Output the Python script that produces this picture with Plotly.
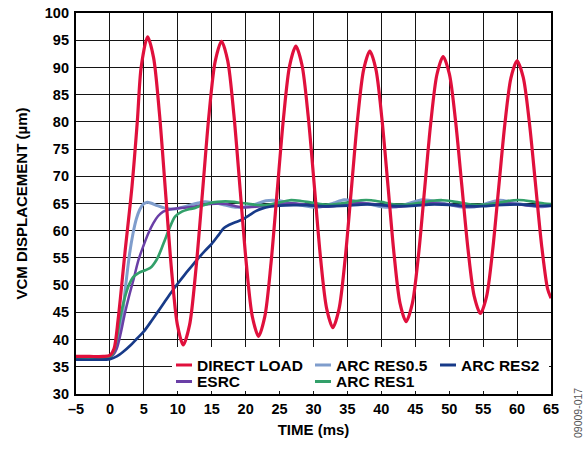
import plotly.graph_objects as go

# ---- data: VCM displacement (µm) versus time (ms) ----
direct_t = [-5, -3, -1, 0, 0.6, 1.2, 2.2, 3.25, 4.05, 4.6, 5.55,
            6.43, 7.30, 8.18, 9.05, 9.93, 10.8,
            11.74, 12.68, 13.63, 14.57, 15.51, 16.45,
            17.36, 18.27, 19.18, 20.08, 20.99, 21.9,
            22.82, 23.73, 24.65, 25.57, 26.48, 27.4,
            28.31, 29.22, 30.13, 31.03, 31.94, 32.85,
            33.76, 34.67, 35.58, 36.48, 37.39, 38.3,
            39.19, 40.08, 40.98, 41.87, 42.76, 43.65,
            44.56, 45.47, 46.38, 47.28, 48.19, 49.1,
            50.02, 50.93, 51.85, 52.77, 53.68, 54.6,
            55.5, 56.4, 57.3, 58.2, 59.1, 60.0,
            60.9, 61.8, 62.7, 63.6, 64.5, 65.0]
direct_v = [36.9, 36.9, 36.9, 37.1, 38.3, 43.6, 55.8, 68.1, 80.3, 90.0, 95.6,
            91.8, 81.5, 67.3, 53.2, 42.8, 39.0,
            42.7, 53.0, 66.9, 80.9, 91.1, 94.8,
            91.2, 81.3, 67.7, 54.2, 44.2, 40.6,
            44.2, 53.9, 67.3, 80.6, 90.3, 93.9,
            90.4, 81.0, 68.1, 55.1, 45.7, 42.2,
            45.6, 54.9, 67.6, 80.3, 89.6, 93.0,
            89.7, 80.6, 68.2, 55.7, 46.6, 43.3,
            46.6, 55.5, 67.7, 79.8, 88.7, 92.0,
            88.8, 80.2, 68.4, 56.6, 48.0, 44.8,
            47.9, 56.4, 68.0, 79.6, 88.1, 91.2,
            88.2, 80.0, 68.8, 57.5, 49.3, 47.6]

res05_t = [-5, -2, 0, 0.4, 0.8, 1.3, 1.8, 2.3, 2.9, 3.4, 3.9, 4.4, 4.9, 5.4, 6.0,
           7.0, 8.0, 9.0, 10.0, 11.0, 12.0, 13.0, 14.0, 15.0, 16.0, 17.0, 18.0,
           19.0, 20.0, 21.0, 22.0, 23.0, 24.0, 25.0, 26.5, 28.0, 29.5, 30.5, 31.5,
           33.0, 34.5, 35.5, 37.0, 38.5, 40.0, 41.5, 43.0, 44.5, 46.0, 47.0, 48.5,
           50.0, 51.5, 53.0, 54.5, 56.0, 57.5, 59.0, 60.5, 62.0, 63.5, 65.0]
res05_v = [36.8, 36.8, 36.9, 37.3, 38.5, 41.0, 44.2, 49.7, 55.8, 59.5, 62.2, 63.9, 64.9, 65.2, 65.1,
           64.6, 64.2, 64.0, 64.1, 64.4, 64.8, 65.1, 65.3, 65.2, 65.0, 64.7, 64.4,
           64.3, 64.4, 64.7, 65.1, 65.5, 65.6, 65.5, 65.1, 64.7, 64.4, 64.3, 64.5,
           65.1, 65.7, 65.6, 65.2, 64.8, 64.4, 64.3, 64.6, 65.2, 65.7, 65.6, 65.2,
           64.8, 64.4, 64.3, 64.6, 65.2, 65.6, 65.3, 64.9, 64.6, 64.4, 64.6]

esrc_t = [-5, -2, 0, 0.5, 1.0, 1.6, 2.2, 2.8, 3.45, 4.2, 4.9, 5.65, 6.4, 7.1, 7.85,
          8.8, 9.8, 11.0, 12.3, 13.5, 14.8, 16.0, 17.2, 18.5, 19.5, 20.5, 21.5,
          23.0, 24.5, 26.0, 27.5, 29.0, 30.5, 32.0, 33.5, 35.0, 36.5, 38.0, 39.5,
          41.0, 42.5, 44.0, 45.5, 47.0, 48.5, 50.0, 51.5, 53.0, 54.5, 56.0, 57.5,
          59.0, 60.5, 62.0, 63.5, 65.0]
esrc_v = [36.6, 36.6, 36.7, 37.2, 38.3, 41.2, 44.8, 47.9, 50.9, 54.6, 57.1, 59.5, 61.4, 62.7, 63.5,
          63.9, 64.1, 64.2, 64.4, 64.7, 64.9, 65.0, 64.9, 64.5, 64.3, 64.3, 64.4,
          64.6, 64.8, 65.0, 65.0, 64.8, 64.5, 64.4, 64.6, 64.9, 65.1, 65.0, 64.8,
          64.5, 64.4, 64.6, 64.9, 65.1, 65.0, 64.8, 64.5, 64.4, 64.6, 64.9, 65.0,
          65.0, 64.8, 64.6, 64.5, 64.6]

res1_t = [-5, -2, 0, 0.5, 1.0, 1.45, 2.0, 2.7, 3.45, 4.2, 4.9, 5.5, 6.15, 6.6, 7.1,
          7.6, 8.1, 8.85, 9.6, 10.6, 11.5, 12.3, 13.0, 13.8, 14.8, 15.8, 17.0,
          18.3, 19.3, 20.2, 21.2, 22.1, 23.5, 25.0, 26.5, 28.0, 29.5, 31.0, 32.5,
          34.0, 35.5, 37.0, 38.5, 40.0, 41.5, 43.0, 44.5, 46.0, 47.5, 49.0, 50.5,
          52.0, 53.5, 55.0, 56.5, 58.0, 59.5, 61.0, 62.5, 64.0, 65.0]
res1_v = [36.7, 36.7, 36.8, 37.6, 40.2, 43.6, 46.8, 49.7, 51.5, 52.2, 52.6, 52.9, 53.4, 54.1, 55.2,
          56.7, 58.3, 60.7, 62.6, 63.5, 63.9, 64.1, 64.4, 64.7, 65.1, 65.3, 65.4,
          65.3, 65.1, 65.0, 64.8, 64.7, 64.8, 65.2, 65.6, 65.5, 65.2, 64.9, 64.8,
          65.0, 65.3, 65.6, 65.6, 65.3, 64.9, 64.8, 64.9, 65.2, 65.5, 65.6, 65.4,
          65.1, 64.8, 64.8, 65.0, 65.3, 65.6, 65.6, 65.3, 65.0, 64.9]

res2_t = [-5, -2, 0, 1.0, 2.0, 3.0, 4.0, 5.0, 6.0, 7.0, 8.0, 9.0, 10.0, 11.0, 12.0,
          13.0, 14.0, 15.0, 16.0, 16.8, 17.6, 18.6, 19.6, 20.5, 21.5, 22.5, 23.5,
          25.0, 27.0, 29.0, 31.0, 33.0, 35.0, 37.0, 39.0, 41.0, 43.0, 45.0, 47.0,
          49.0, 51.0, 53.0, 55.0, 57.0, 59.0, 61.0, 63.0, 65.0]
res2_v = [36.3, 36.3, 36.4, 36.9, 37.8, 38.9, 40.2, 41.5, 43.2, 45.0, 46.8, 48.6, 50.3, 51.9, 53.4,
          54.9, 56.3, 57.6, 59.2, 60.5, 61.1, 61.6, 62.1, 62.8, 63.6, 64.1, 64.4,
          64.6, 64.7, 64.7, 64.5, 64.5, 64.6, 64.8, 64.8, 64.6, 64.5, 64.6, 64.8,
          64.8, 64.7, 64.5, 64.5, 64.7, 64.8, 64.8, 64.6, 64.6]

x_ticks = [-5, 0, 5, 10, 15, 20, 25, 30, 35, 40, 45, 50, 55, 60, 65]
x_tick_text = ["–5", "0", "5", "10", "15", "20", "25", "30", "35", "40", "45",
               "50", "55", "60", "65"]
y_ticks = [30, 35, 40, 45, 50, 55, 60, 65, 70, 75, 80, 85, 90, 95, 100]

# series drawn back to front: name, x, y, colour, width, legend row/col
series = [
    ("ARC RES0.5", res05_t, res05_v, "#7f9dcc", 3.0, 0, 1),
    ("ESRC", esrc_t, esrc_v, "#6a3fa6", 2.5, 1, 0),
    ("ARC RES1", res1_t, res1_v, "#33a06a", 2.7, 1, 1),
    ("ARC RES2", res2_t, res2_v, "#173a88", 2.7, 0, 2),
    ("DIRECT LOAD", direct_t, direct_v, "#e0103c", 3.2, 0, 0),
]

FONT = "Liberation Sans, Arial, sans-serif"
W, H = 586, 449
ML, MR, MT, MB = 76, 35, 13, 55
PW, PH = W - ML - MR, H - MT - MB


def px_x(px):
    return (px - ML) / PW


def px_y(py):
    return (H - MB - py) / PH


fig = go.Figure()
for name, xs, ys, color, width, _, _ in series:
    fig.add_trace(go.Scatter(
        x=xs, y=ys, mode="lines", name=name,
        line=dict(color=color, width=width, shape="spline", smoothing=0.8),
        showlegend=False,
    ))

# in-plot key: white panel, short line swatches and labels
shapes = [dict(type="rect", xref="paper", yref="paper",
               x0=px_x(172), x1=px_x(549), y0=px_y(391), y1=px_y(347),
               fillcolor="white", line=dict(width=0), layer="above")]
annotations = []
col_dash = [176, 315, 440]
row_y = [365, 381.5]
for name, _, _, color, _, row, col in series:
    x0 = col_dash[col]
    shapes.append(dict(type="line", xref="paper", yref="paper",
                       x0=px_x(x0), x1=px_x(x0 + 16),
                       y0=px_y(row_y[row]), y1=px_y(row_y[row]),
                       line=dict(color=color, width=3), layer="above"))
    annotations.append(dict(text=name, xref="paper", yref="paper",
                            x=px_x(x0 + 19), y=px_y(row_y[row]),
                            xanchor="left", yanchor="middle", showarrow=False,
                            font=dict(family=FONT, size=15.5, color="black",
                                      weight="bold")))

annotations.append(dict(text="09009-017", xref="paper", yref="paper",
                        x=px_x(578), y=px_y(413), textangle=-90,
                        xanchor="center", yanchor="middle", showarrow=False,
                        font=dict(family=FONT, size=10.5, color="#555555")))

axis_common = dict(
    showgrid=True, gridcolor="#141414", gridwidth=1.4,
    showline=True, linecolor="black", linewidth=2.2, mirror=True,
    ticks="", zeroline=False,
    tickfont=dict(family=FONT, size=14.5, color="black", weight="bold"),
)

fig.update_layout(
    width=W, height=H,
    margin=dict(l=ML, r=MR, t=MT, b=MB, autoexpand=False),
    paper_bgcolor="white", plot_bgcolor="white",
    showlegend=False,
    xaxis=dict(range=[-5, 65], tickvals=x_ticks, ticktext=x_tick_text,
               title=dict(text="TIME (ms)", standoff=9,
                          font=dict(family=FONT, size=15, color="black",
                                    weight="bold")),
               **axis_common),
    yaxis=dict(range=[30, 100], tickvals=y_ticks,
               title=dict(text="VCM DISPLACEMENT (µm)", standoff=14,
                          font=dict(family=FONT, size=15, color="black",
                                    weight="bold")),
               ticklabelstandoff=2,
               **axis_common),
    shapes=shapes,
    annotations=annotations,
)

fig.write_html("out.html")
